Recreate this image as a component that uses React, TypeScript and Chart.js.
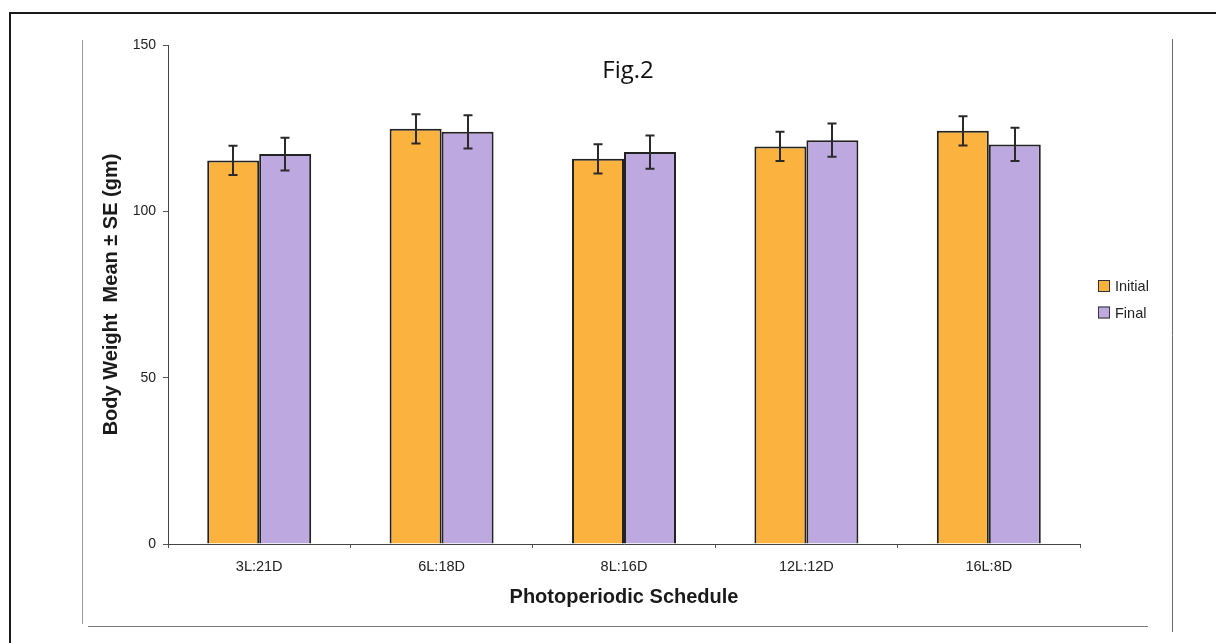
import { useEffect, useRef } from 'react';
import { Chart, registerables } from 'chart.js';

Chart.register(...registerables);

// Photoperiod groups on the x axis
const categories = ['3L:21D', '6L:18D', '8L:16D', '12L:12D', '16L:8D'];

// Body weight (gm), mean and standard error for each group
const initialMean = [115.3, 124.8, 115.8, 119.5, 124.2];
const initialSE = [4.4, 4.4, 4.4, 4.4, 4.4];
const finalMean = [117.2, 123.9, 117.8, 121.4, 120.1];
const finalSE = [4.9, 5.0, 5.0, 5.0, 5.0];

// Value axis tick labels
const yTicks = [0, 50, 100, 150];

const seriesNames = ['Initial', 'Final'];
const seriesColors = ['#FCB23E', '#BDA8E0'];

const FONT = '"Liberation Sans", Arial, sans-serif';

// Page frame around the figure
const framePlugin = {
  id: 'figureFrame',
  beforeDraw(chart: any) {
    const { ctx, width, height } = chart;
    ctx.save();
    ctx.fillStyle = '#ffffff';
    ctx.fillRect(0, 0, width, height);
    // outer box
    ctx.strokeStyle = '#1a1a1a';
    ctx.lineWidth = 2;
    ctx.beginPath();
    ctx.moveTo(10, height + 2);
    ctx.lineTo(10, 13);
    ctx.lineTo(width + 2, 13);
    ctx.stroke();
    // inner figure border
    ctx.lineWidth = 1;
    ctx.strokeStyle = '#9a9a9a';
    ctx.beginPath();
    ctx.moveTo(82.5, 40);
    ctx.lineTo(82.5, 624);
    ctx.stroke();
    ctx.strokeStyle = '#6a6a6a';
    ctx.beginPath();
    ctx.moveTo(1172.5, 39);
    ctx.lineTo(1172.5, 632);
    ctx.stroke();
    ctx.strokeStyle = '#7a7a7a';
    ctx.beginPath();
    ctx.moveTo(88, 626.5);
    ctx.lineTo(1148, 626.5);
    ctx.stroke();
    ctx.restore();
  },
};

// Whiskers of +/- one standard error on top of each bar
const errorBarPlugin = {
  id: 'errorBars',
  afterDatasetsDraw(chart: any) {
    const { ctx } = chart;
    const yScale = chart.scales.y;
    ctx.save();
    ctx.strokeStyle = '#2a2a2a';
    ctx.lineWidth = 2;
    chart.data.datasets.forEach((ds: any, di: number) => {
      const meta = chart.getDatasetMeta(di);
      meta.data.forEach((bar: any, i: number) => {
        const v = ds.data[i];
        const e = ds.se[i];
        const top = yScale.getPixelForValue(v + e);
        const bottom = yScale.getPixelForValue(v - e);
        const x = Math.round(bar.x);
        const cap = 4.5;
        ctx.beginPath();
        ctx.moveTo(x, top);
        ctx.lineTo(x, bottom);
        ctx.moveTo(x - cap, top);
        ctx.lineTo(x + cap, top);
        ctx.moveTo(x - cap, bottom);
        ctx.lineTo(x + cap, bottom);
        ctx.stroke();
      });
    });
    ctx.restore();
  },
};

// Figure caption inside the plot and the legend to the right of it
const annotationPlugin = {
  id: 'figAnnotations',
  afterDraw(chart: any) {
    const { ctx, chartArea } = chart;
    ctx.save();
    ctx.fillStyle = '#111';
    ctx.font = '24px "Open Sans", "Noto Sans", sans-serif';
    ctx.textAlign = 'center';
    ctx.textBaseline = 'alphabetic';
    ctx.fillText('Fig.2', 628, 78);

    const boxX = chartArea.right + 18;
    const rowY = [286, 312.5];
    ctx.font = `14.5px ${FONT}`;
    ctx.textAlign = 'left';
    ctx.textBaseline = 'middle';
    chart.data.datasets.forEach((ds: any, i: number) => {
      const cy = rowY[i];
      ctx.fillStyle = ds.backgroundColor;
      ctx.fillRect(boxX, cy - 6, 12, 12);
      ctx.strokeStyle = '#333';
      ctx.lineWidth = 1;
      ctx.strokeRect(boxX + 0.5, cy - 5.5, 11, 11);
      ctx.fillStyle = '#222';
      ctx.fillText(ds.label, boxX + 17, cy + 1);
    });
    ctx.restore();
  },
};

export default function App() {
  const canvasRef = useRef<HTMLCanvasElement>(null);

  useEffect(() => {
    const canvas = canvasRef.current;
    if (!canvas) return;
    const chart = new Chart(canvas, {
      type: 'bar',
      data: {
        labels: categories,
        datasets: [
          {
            label: seriesNames[0],
            data: initialMean,
            se: initialSE,
            backgroundColor: seriesColors[0],
            borderColor: '#222',
            borderWidth: 2,
          } as any,
          {
            label: seriesNames[1],
            data: finalMean,
            se: finalSE,
            backgroundColor: seriesColors[1],
            borderColor: '#222',
            borderWidth: 2,
          } as any,
        ],
      },
      options: {
        animation: false,
        responsive: false,
        devicePixelRatio: 1,
        layout: { padding: { left: 0, right: 136, top: 45, bottom: 0 } },
        datasets: {
          bar: { categoryPercentage: 0.57, barPercentage: 1.0 },
        },
        plugins: {
          legend: { display: false },
          title: { display: false },
          tooltip: { enabled: false },
        },
        scales: {
          x: {
            offset: true,
            grid: {
              offset: true,
              drawOnChartArea: false,
              drawTicks: true,
              tickLength: 4,
              color: '#555',
            },
            border: { color: '#444', width: 1 },
            ticks: {
              color: '#222',
              font: { family: FONT, size: 14.5 },
              padding: 10,
              maxRotation: 0,
            },
            title: {
              display: true,
              text: 'Photoperiodic Schedule',
              color: '#1a1a1a',
              font: { family: FONT, size: 20, weight: 'bold' },
              padding: { top: 0, bottom: 33.5 },
            },
            afterFit(scale: any) {
              scale.height = 99;
            },
          },
          y: {
            min: 0,
            max: 150,
            grid: {
              drawOnChartArea: false,
              drawTicks: true,
              tickLength: 5,
              color: '#555',
            },
            border: { color: '#444', width: 1 },
            ticks: {
              color: '#222',
              font: { family: FONT, size: 14 },
              padding: 7,
            },
            afterBuildTicks(scale: any) {
              scale.ticks = yTicks.map((v) => ({ value: v }));
            },
            title: {
              display: true,
              text: 'Body Weight  Mean ± SE (gm)',
              color: '#1a1a1a',
              font: { family: FONT, size: 20, weight: 'bold' },
              padding: { top: 99, bottom: 0 },
            },
            afterFit(scale: any) {
              scale.width = 168;
            },
          },
        },
      } as any,
      plugins: [framePlugin, errorBarPlugin, annotationPlugin],
    });
    return () => chart.destroy();
  }, []);

  return (
    <div style={{ position: 'absolute', left: 0, top: 0, width: 1216, height: 643, background: '#fff' }}>
      <canvas ref={canvasRef} width={1216} height={643} style={{ display: 'block' }} />
    </div>
  );
}
